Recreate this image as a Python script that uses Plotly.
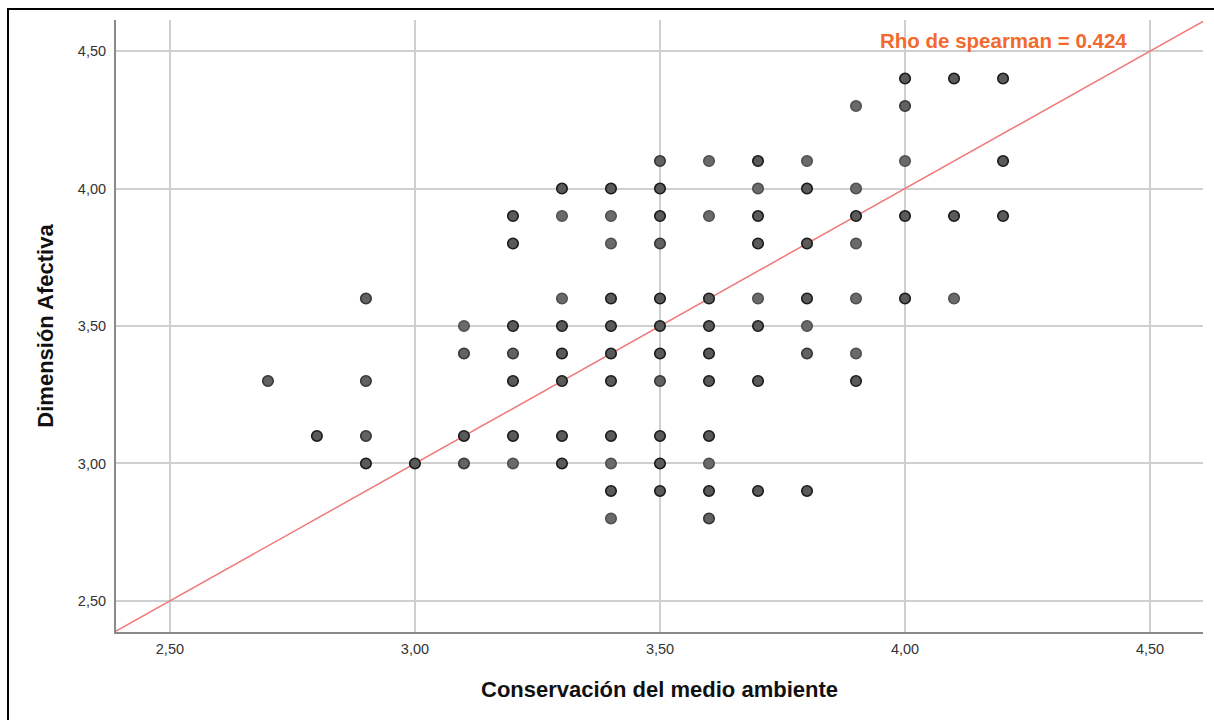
import plotly.graph_objects as go

# Data (x, y, overlap weight: 1 light, 2 medium, 3 dark)
conservacion = [2.7, 2.8, 2.9, 2.9, 2.9, 2.9, 3.0,
                3.1, 3.1, 3.1, 3.1,
                3.2, 3.2, 3.2, 3.2, 3.2, 3.2, 3.2,
                3.3, 3.3, 3.3, 3.3, 3.3, 3.3, 3.3, 3.3,
                3.4, 3.4, 3.4, 3.4, 3.4, 3.4, 3.4, 3.4, 3.4, 3.4, 3.4,
                3.5, 3.5, 3.5, 3.5, 3.5, 3.5, 3.5, 3.5, 3.5, 3.5, 3.5,
                3.6, 3.6, 3.6, 3.6, 3.6, 3.6, 3.6, 3.6, 3.6, 3.6,
                3.7, 3.7, 3.7, 3.7, 3.7, 3.7, 3.7, 3.7,
                3.8, 3.8, 3.8, 3.8, 3.8, 3.8, 3.8,
                3.9, 3.9, 3.9, 3.9, 3.9, 3.9, 3.9,
                4.0, 4.0, 4.0, 4.0, 4.0,
                4.1, 4.1, 4.1,
                4.2, 4.2, 4.2]
afectiva = [3.3, 3.1, 3.6, 3.3, 3.1, 3.0, 3.0,
            3.5, 3.4, 3.1, 3.0,
            3.9, 3.8, 3.5, 3.4, 3.3, 3.1, 3.0,
            4.0, 3.9, 3.6, 3.5, 3.4, 3.3, 3.1, 3.0,
            4.0, 3.9, 3.8, 3.6, 3.5, 3.4, 3.3, 3.1, 3.0, 2.9, 2.8,
            4.1, 4.0, 3.9, 3.8, 3.6, 3.5, 3.4, 3.3, 3.1, 3.0, 2.9,
            4.1, 3.9, 3.6, 3.5, 3.4, 3.3, 3.1, 3.0, 2.9, 2.8,
            4.1, 4.0, 3.9, 3.8, 3.6, 3.5, 3.3, 2.9,
            4.1, 4.0, 3.8, 3.6, 3.5, 3.4, 2.9,
            4.3, 4.0, 3.9, 3.8, 3.6, 3.4, 3.3,
            4.4, 4.3, 4.1, 3.9, 3.6,
            4.4, 3.9, 3.6,
            4.4, 4.1, 3.9]
overlap = [2, 3, 2, 2, 2, 3, 3,
           1, 2, 3, 2,
           3, 3, 3, 2, 3, 3, 1,
           3, 1, 1, 3, 3, 3, 3, 3,
           3, 1, 1, 3, 3, 3, 3, 3, 1, 3, 1,
           2, 3, 3, 2, 3, 3, 3, 2, 3, 3, 3,
           1, 1, 3, 3, 3, 3, 3, 1, 3, 2,
           3, 1, 3, 3, 1, 3, 3, 3,
           1, 3, 3, 3, 1, 2, 3,
           1, 1, 3, 1, 1, 1, 3,
           3, 2, 1, 3, 3,
           3, 3, 1,
           3, 3, 3]

rho_text = "Rho de spearman = 0.424"
fit_slope = 1.0
fit_intercept = 0.0

x_range = [2.390, 4.608]
y_range = [2.387, 4.613]
tick_vals = [2.5, 3.0, 3.5, 4.0, 4.5]
tick_text = ["2,50", "3,00", "3,50", "4,00", "4,50"]

edge_colors = {1: "#505050", 2: "#363636", 3: "#1a1a1a"}
fill_colors = {1: "#6a6a6a", 2: "#626262", 3: "#5a5a5a"}

fig = go.Figure()

fit_x = [x_range[0], x_range[1]]
fit_y = [fit_intercept + fit_slope * v for v in fit_x]
fig.add_trace(go.Scatter(
    x=fit_x, y=fit_y, mode="lines",
    line=dict(color="#f07878", width=1.5),
    hoverinfo="skip", showlegend=False,
))

fig.add_trace(go.Scatter(
    x=conservacion, y=afectiva, mode="markers",
    marker=dict(
        size=10.5,
        color=[fill_colors[o] for o in overlap],
        line=dict(color=[edge_colors[o] for o in overlap], width=1.6),
    ),
    showlegend=False,
))

fig.update_layout(
    width=1214, height=720,
    margin=dict(l=116, r=11, t=20, b=88),
    paper_bgcolor="white", plot_bgcolor="white",
    font=dict(family="Liberation Sans, Arial, sans-serif", color="#222"),
    xaxis=dict(
        range=x_range, tickvals=tick_vals, ticktext=tick_text,
        showgrid=True, gridcolor="#cfcfcf", gridwidth=1.5,
        showline=True, linecolor="#8a8a8a", linewidth=2,
        zeroline=False, ticks="", ticklabelstandoff=3,
        tickfont=dict(size=14.5, color="#333"),
        title=dict(text="<b>Conservación del medio ambiente</b>",
                   font=dict(size=22, color="#111"), standoff=25),
    ),
    yaxis=dict(
        range=y_range, tickvals=tick_vals, ticktext=tick_text,
        showgrid=True, gridcolor="#cfcfcf", gridwidth=1.5,
        showline=True, linecolor="#8a8a8a", linewidth=2,
        zeroline=False, ticks="", ticklabelstandoff=5,
        tickfont=dict(size=14.5, color="#333"),
        title=dict(text="<b>Dimensión Afectiva</b>",
                   font=dict(size=22, color="#111"), standoff=18),
    ),
    annotations=[dict(
        x=4.2, y=4.54, xref="x", yref="y",
        text="<b>" + rho_text + "</b>", showarrow=False,
        font=dict(size=20.5, color="#f26a2e"),
    )],
    shapes=[dict(
        type="rect", xref="paper", yref="paper",
        x0=(8 - 116) / 1087, x1=1.2, y0=-0.3, y1=(632 - 9) / 612,
        line=dict(color="black", width=2), fillcolor="rgba(0,0,0,0)",
        layer="above",
    )],
)

fig.write_html("out.html")
